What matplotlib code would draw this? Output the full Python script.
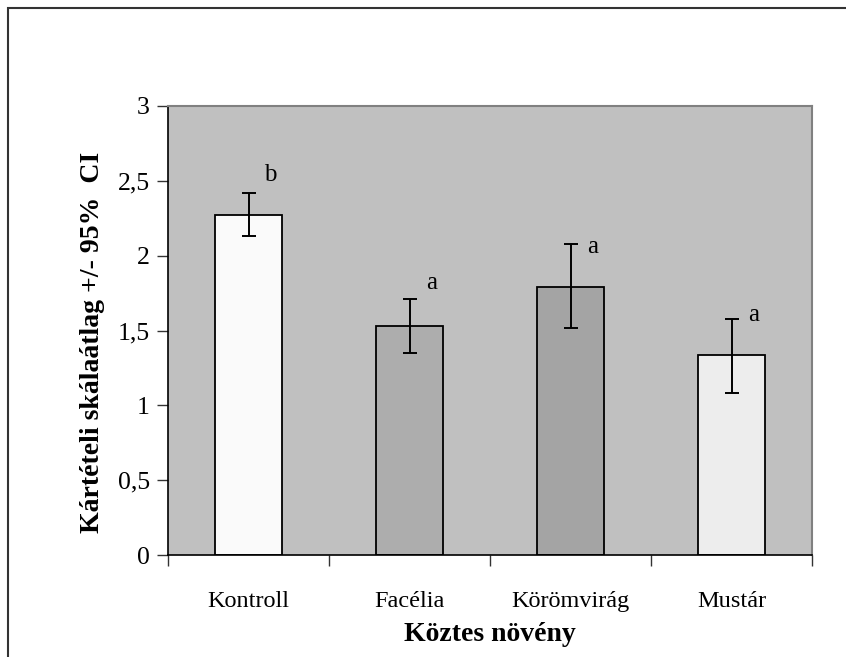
import matplotlib
matplotlib.use("Agg")
import matplotlib.pyplot as plt
from matplotlib.patches import Rectangle
import numpy as np

plt.rcParams['font.family'] = ['Liberation Serif', 'DejaVu Serif']

# data
categories = ["Kontroll", "Facélia", "Körömvirág", "Mustár"]
means = [2.27, 1.53, 1.79, 1.335]
ci_low = [2.13, 1.347, 1.52, 1.082]
ci_high = [2.416, 1.71, 2.08, 1.576]
letters = ["b", "a", "a", "a"]
letter_y = [2.54, 1.817, 2.057, 1.603]
bar_colors = ["#FAFAFA", "#ADADAD", "#A4A4A4", "#EDEDED"]
yticks = [0, 0.5, 1, 1.5, 2, 2.5, 3]
ytick_labels = ["0", "0,5", "1", "1,5", "2", "2,5", "3"]

fig = plt.figure(figsize=(8.46, 6.57), dpi=100)
ax = fig.add_axes([168/846, 1-555/657, (812-168)/846, (555-106)/657])
ax.set_facecolor("#C0C0C0")

x = np.arange(len(categories))
m = np.array(means)
yerr = [m - np.array(ci_low), np.array(ci_high) - m]
ax.bar(x, means, width=0.415, color=bar_colors, edgecolor="black", linewidth=1.3, zorder=2)
ax.errorbar(x, means, yerr=yerr, fmt="none", ecolor="black", elinewidth=1.4,
            capsize=4.8, capthick=1.4, zorder=3)

for xi, lab, ly in zip(x, letters, letter_y):
    ax.text(xi + 0.137, ly, lab, fontsize=18, ha="center", va="center", zorder=4)

ax.set_xlim(-0.5, 3.5)
ax.set_ylim(0, 3)
ax.set_yticks(yticks)
ax.set_yticklabels(ytick_labels, fontsize=18.5)
ax.set_xticks(x)
ax.set_xticklabels(categories, fontsize=17.5)
ax.set_xticks(np.arange(-0.5, 4.0, 1.0), minor=True)
ax.tick_params(axis="x", which="major", length=0, pad=26)
ax.tick_params(axis="x", which="minor", length=8, width=1, direction="out", color="#333333")
ax.tick_params(axis="y", length=8, width=1, direction="out", color="#333333", pad=5)

for s in ["top", "right"]:
    ax.spines[s].set_color("#808080")
    ax.spines[s].set_linewidth(1.5)
for s in ["left", "bottom"]:
    ax.spines[s].set_color("black")
    ax.spines[s].set_linewidth(1.2)

ax.set_xlabel("Köztes növény", fontsize=20, fontweight="bold", labelpad=7)
ax.set_ylabel("Kártételi skálaátlag +/- 95%  CI", fontsize=20, fontweight="bold")
ax.yaxis.set_label_coords(-0.098, 0.474)

# outer frame of the chart object
fig.patches.append(Rectangle((8/846, -0.5), 2, 0.5 + 1 - 8/657, transform=fig.transFigure,
                             fill=False, edgecolor="#333333", linewidth=1.5))

fig.savefig("out.png", dpi=100)
